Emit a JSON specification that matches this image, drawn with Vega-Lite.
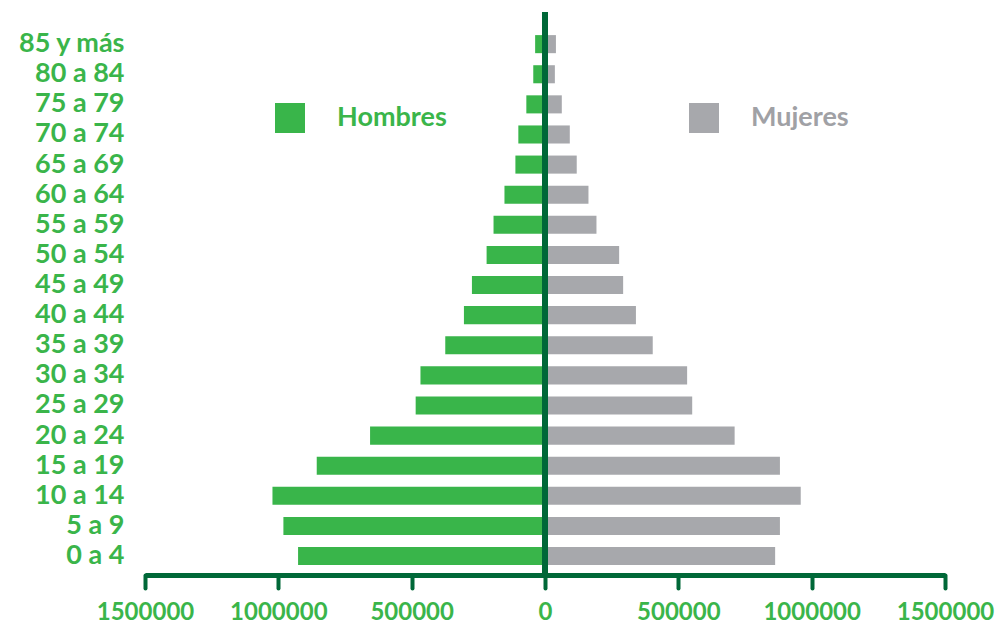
{
  "$schema": "https://vega.github.io/schema/vega-lite/v6.json",
  "width": 800,
  "height": 563,
  "autosize": {"type": "none"},
  "padding": {"left": 145, "top": 12, "right": 58, "bottom": 51},
  "background": "white",
  "config": {"view": {"stroke": null}, "font": "Lato"},
  "data": {
    "values": [
      {"edad": "85 y más", "sexo": "Hombres", "poblacion": -37000},
      {"edad": "80 a 84", "sexo": "Hombres", "poblacion": -44000},
      {"edad": "75 a 79", "sexo": "Hombres", "poblacion": -70000},
      {"edad": "70 a 74", "sexo": "Hombres", "poblacion": -100000},
      {"edad": "65 a 69", "sexo": "Hombres", "poblacion": -111000},
      {"edad": "60 a 64", "sexo": "Hombres", "poblacion": -152000},
      {"edad": "55 a 59", "sexo": "Hombres", "poblacion": -193000},
      {"edad": "50 a 54", "sexo": "Hombres", "poblacion": -219000},
      {"edad": "45 a 49", "sexo": "Hombres", "poblacion": -274000},
      {"edad": "40 a 44", "sexo": "Hombres", "poblacion": -304000},
      {"edad": "35 a 39", "sexo": "Hombres", "poblacion": -374000},
      {"edad": "30 a 34", "sexo": "Hombres", "poblacion": -467000},
      {"edad": "25 a 29", "sexo": "Hombres", "poblacion": -485000},
      {"edad": "20 a 24", "sexo": "Hombres", "poblacion": -656000},
      {"edad": "15 a 19", "sexo": "Hombres", "poblacion": -856000},
      {"edad": "10 a 14", "sexo": "Hombres", "poblacion": -1022000},
      {"edad": "5 a 9", "sexo": "Hombres", "poblacion": -981000},
      {"edad": "0 a 4", "sexo": "Hombres", "poblacion": -926000},
      {"edad": "85 y más", "sexo": "Mujeres", "poblacion": 41000},
      {"edad": "80 a 84", "sexo": "Mujeres", "poblacion": 37000},
      {"edad": "75 a 79", "sexo": "Mujeres", "poblacion": 63000},
      {"edad": "70 a 74", "sexo": "Mujeres", "poblacion": 93000},
      {"edad": "65 a 69", "sexo": "Mujeres", "poblacion": 119000},
      {"edad": "60 a 64", "sexo": "Mujeres", "poblacion": 163000},
      {"edad": "55 a 59", "sexo": "Mujeres", "poblacion": 193000},
      {"edad": "50 a 54", "sexo": "Mujeres", "poblacion": 278000},
      {"edad": "45 a 49", "sexo": "Mujeres", "poblacion": 293000},
      {"edad": "40 a 44", "sexo": "Mujeres", "poblacion": 341000},
      {"edad": "35 a 39", "sexo": "Mujeres", "poblacion": 404000},
      {"edad": "30 a 34", "sexo": "Mujeres", "poblacion": 533000},
      {"edad": "25 a 29", "sexo": "Mujeres", "poblacion": 552000},
      {"edad": "20 a 24", "sexo": "Mujeres", "poblacion": 711000},
      {"edad": "15 a 19", "sexo": "Mujeres", "poblacion": 881000},
      {"edad": "10 a 14", "sexo": "Mujeres", "poblacion": 959000},
      {"edad": "5 a 9", "sexo": "Mujeres", "poblacion": 881000},
      {"edad": "0 a 4", "sexo": "Mujeres", "poblacion": 863000}
    ]
  },
  "layer": [
    {
      "mark": {"type": "bar"},
      "encoding": {
        "y": {
          "field": "edad",
          "type": "nominal",
          "sort": ["85 y más", "80 a 84", "75 a 79", "70 a 74", "65 a 69", "60 a 64", "55 a 59", "50 a 54", "45 a 49", "40 a 44", "35 a 39", "30 a 34", "25 a 29", "20 a 24", "15 a 19", "10 a 14", "5 a 9", "0 a 4"],
          "scale": {"paddingInner": 0.4, "paddingOuter": 0.548, "align": 0.7},
          "axis": {
            "title": null,
            "domain": false,
            "ticks": false,
            "grid": false,
            "labelPadding": 21,
            "labelFont": "Lato",
            "labelFontSize": 27,
            "labelFontWeight": "bold",
            "labelColor": "#3AB54A"
          }
        },
        "x": {
          "field": "poblacion",
          "type": "quantitative",
          "scale": {"domain": [-1500000, 1500000], "nice": false, "zero": true},
          "axis": {
            "title": null,
            "grid": false,
            "values": [-1500000, -1000000, -500000, 0, 500000, 1000000, 1500000],
            "labelExpr": "format(abs(datum.value), 'd')",
            "domainColor": "#006838",
            "domainWidth": 5,
            "ticks": true,
            "tickColor": "#006838",
            "tickWidth": 4,
            "tickSize": 13,
            "tickCap": "round",
            "labelPadding": 12,
            "labelFont": "Lato",
            "labelFontSize": 24,
            "labelFontWeight": "bold",
            "labelColor": "#3AB54A",
            "labelFlush": false,
            "labelOverlap": false
          }
        },
        "color": {
          "field": "sexo",
          "type": "nominal",
          "scale": {"domain": ["Hombres", "Mujeres"], "range": ["#39B54A", "#A7A8AC"]},
          "legend": {
            "orient": "none",
            "legendX": 130,
            "legendY": 91,
            "direction": "horizontal",
            "columns": 2,
            "title": null,
            "symbolType": "square",
            "symbolSize": 900,
            "symbolStrokeWidth": 0,
            "labelFont": "Lato",
            "labelFontSize": 27,
            "labelFontWeight": "bold",
            "labelOffset": 32,
            "labelLimit": 300,
            "columnPadding": 242,
            "encode": {
              "labels": {
                "update": {
                  "fill": {"signal": "datum.value === 'Hombres' ? '#3AB54A' : '#A0A1A5'"}
                }
              }
            }
          }
        }
      }
    },
    {
      "mark": {"type": "rule", "color": "#006838", "strokeWidth": 5},
      "encoding": {"x": {"datum": 0}}
    }
  ]
}
